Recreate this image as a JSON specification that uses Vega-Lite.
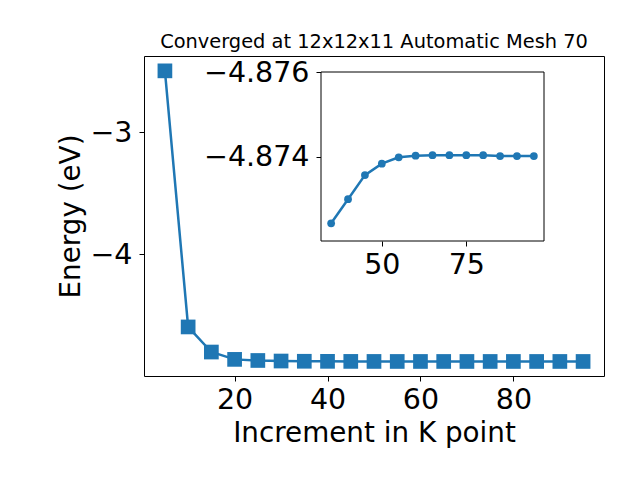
{
  "$schema": "https://vega.github.io/schema/vega-lite/v6.json",
  "width": 460,
  "height": 320,
  "autosize": {"type": "none"},
  "padding": {"left": 144, "top": 56, "right": 36, "bottom": 104},
  "title": {
    "text": "Converged at 12x12x11 Automatic Mesh 70",
    "fontSize": 19.4,
    "fontWeight": "normal",
    "font": "DejaVu Sans",
    "color": "black",
    "anchor": "middle",
    "baseline": "alphabetic",
    "offset": -11
  },
  "config": {
    "font": "DejaVu Sans",
    "view": {"stroke": "black", "strokeWidth": 1},
    "axis": {
      "grid": false,
      "domain": false,
      "tickColor": "black",
      "tickSize": 5,
      "tickWidth": 1,
      "labelColor": "black",
      "labelFont": "DejaVu Sans",
      "labelFontSize": 28.5,
      "labelPadding": 4,
      "titleColor": "black",
      "titleFont": "DejaVu Sans",
      "titleFontSize": 27.8,
      "titleFontWeight": "normal"
    },
    "axisY": {"labelPadding": 7}
  },
  "datasets": {
    "energy": [
      {"k": 5, "E": -2.5},
      {"k": 10, "E": -4.592},
      {"k": 15, "E": -4.797},
      {"k": 20, "E": -4.857},
      {"k": 25, "E": -4.866},
      {"k": 30, "E": -4.8705},
      {"k": 35, "E": -4.87242},
      {"k": 40, "E": -4.87299},
      {"k": 45, "E": -4.87356},
      {"k": 50, "E": -4.87383},
      {"k": 55, "E": -4.87398},
      {"k": 60, "E": -4.87402},
      {"k": 65, "E": -4.87403},
      {"k": 70, "E": -4.87403},
      {"k": 75, "E": -4.87403},
      {"k": 80, "E": -4.87403},
      {"k": 85, "E": -4.87401},
      {"k": 90, "E": -4.87401},
      {"k": 95, "E": -4.87401}
    ]
  },
  "layer": [
    {
      "data": {"name": "energy"},
      "encoding": {
        "x": {
          "field": "k",
          "type": "quantitative",
          "scale": {"domain": [0.5, 99.5], "nice": false, "zero": false},
          "axis": {"values": [20, 40, 60, 80], "title": "Increment in K point", "titlePadding": 6}
        },
        "y": {
          "field": "E",
          "type": "quantitative",
          "scale": {"domain": [-4.9928, -2.3787], "nice": false, "zero": false},
          "axis": {"values": [-3, -4], "format": "d", "title": "Energy (eV)", "titlePadding": 4}
        }
      },
      "layer": [
        {"mark": {"type": "line", "color": "#1f77b4", "strokeWidth": 2.5}},
        {"mark": {"type": "square", "color": "#1f77b4", "opacity": 1, "filled": true, "size": 216}}
      ]
    },
    {
      "data": {"name": "energy"},
      "transform": [{"filter": "datum.k >= 35"}],
      "layer": [
        {
          "data": {"values": [{}]},
          "mark": {"type": "rect", "fill": "white", "stroke": "black", "strokeWidth": 1},
          "encoding": {
            "x": {"datum": 32, "type": "quantitative"},
            "x2": {"datum": 98},
            "y": {"datum": -4.876, "type": "quantitative"},
            "y2": {"datum": -4.872}
          }
        },
        {
          "mark": {"type": "line", "color": "#1f77b4", "strokeWidth": 2.5},
          "encoding": {
            "x": {"field": "k", "type": "quantitative"},
            "y": {"field": "E", "type": "quantitative"}
          }
        },
        {
          "mark": {"type": "circle", "color": "#1f77b4", "opacity": 1, "size": 60},
          "encoding": {
            "x": {"field": "k", "type": "quantitative"},
            "y": {"field": "E", "type": "quantitative"}
          }
        }
      ],
      "encoding": {
        "x": {
          "type": "quantitative",
          "scale": {"domain": [32, 98], "range": [177, 400], "nice": false, "zero": false},
          "axis": {"orient": "bottom", "offset": -135, "values": [50, 75], "title": null}
        },
        "y": {
          "type": "quantitative",
          "scale": {"domain": [-4.876, -4.872], "range": [16, 185], "nice": false, "zero": false},
          "axis": {"orient": "left", "offset": -177, "values": [-4.876, -4.874], "format": ".3f", "title": null}
        }
      },
      "resolve": {"scale": {"x": "shared", "y": "shared"}}
    }
  ],
  "resolve": {
    "scale": {"x": "independent", "y": "independent"},
    "axis": {"x": "independent", "y": "independent"}
  }
}
